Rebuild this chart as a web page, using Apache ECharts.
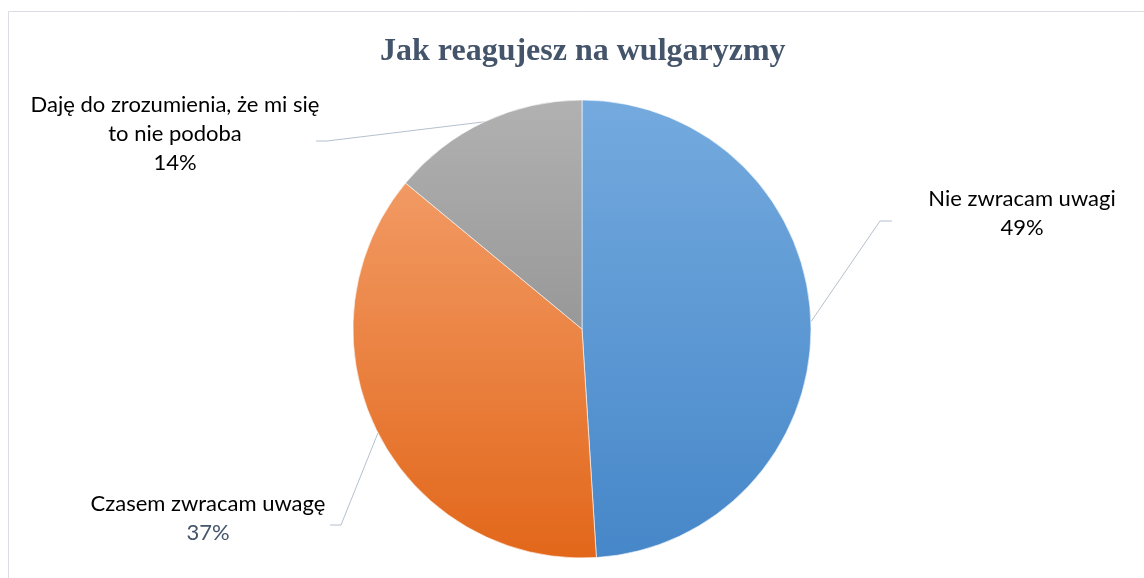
<!DOCTYPE html>
<html>
<head>
<meta charset="utf-8">
<script src="https://cdn.jsdelivr.net/npm/echarts@6/dist/echarts.min.js"></script>
<style>
  html, body { margin: 0; padding: 0; background: #fff; }
  #chart { width: 1144px; height: 578px; }
</style>
</head>
<body>
<div id="chart"></div>
<script>
// data
var categories = ['Nie zwracam uwagi', 'Czasem zwracam uwagę', 'Daję do zrozumienia, że mi się\nto nie podoba']
var shares = [49, 37, 14]

// slice gradients (top -> bottom, across the whole pie)
var sliceColors = [
  ['#74aade', '#4687c9'],
  ['#f5a574', '#e2671a'],
  ['#b1b1b1', '#7f7f7f']
]
// where each label sits, and the elbow of its leader line
var labelSpots = [
  { x: 1022, y: 213, elbow: [880, 221], end: [892, 221] },
  { x: 208, y: 518, elbow: [341, 525], end: [330, 525] },
  { x: 175, y: 134, elbow: [327, 141], end: [316, 141] }
]

var chart = echarts.init(document.getElementById('chart'))

var seriesData = categories.map(function(name, i) {
  return {
    name: name,
    value: shares[i],
    itemStyle: {
      color: new echarts.graphic.LinearGradient(0, 100, 0, 558, [
        { offset: 0, color: sliceColors[i][0] },
        { offset: 1, color: sliceColors[i][1] }
      ], true)
    },
    label: {
      rich: {
        pct: { color: i === 1 ? '#44546a' : '#000' }
      }
    }
  }
})

chart.setOption({
  animation: false,
  title: {
    text: 'Jak reagujesz na wulgaryzmy',
    left: 375,
    top: 31,
    textStyle: {
      fontFamily: 'Liberation Serif',
      fontWeight: 'bold',
      fontSize: 32,
      color: '#44546a'
    }
  },
  graphic: [{
    type: 'rect',
    shape: { x: 8.5, y: 11.5, width: 1200, height: 700 },
    style: { fill: 'none', stroke: '#dadde2', lineWidth: 1 },
    silent: true
  }],
  series: [{
    type: 'pie',
    center: [582, 329],
    radius: 229,
    startAngle: 90,
    clockwise: true,
    data: seriesData,
    itemStyle: {
      borderColor: 'rgba(255,255,255,0.6)',
      borderWidth: 1
    },
    label: {
      show: true,
      position: 'outside',
      formatter: function(p) {
        return '{name|' + p.name + '}\n{pct|' + p.value + '%}'
      },
      rich: {
        name: { fontFamily: 'Lato', fontSize: 22, lineHeight: 29, color: '#000', align: 'center' },
        pct: { fontFamily: 'Lato', fontSize: 22, lineHeight: 29, align: 'center' }
      }
    },
    labelLine: {
      show: true,
      lineStyle: { color: '#b4c0ce', width: 1 }
    },
    labelLayout: function(params) {
      var spot = labelSpots[params.dataIndex]
      var start = params.labelLinePoints[0]
      return {
        x: spot.x,
        y: spot.y,
        align: 'center',
        verticalAlign: 'middle',
        labelLinePoints: [start, spot.elbow, spot.end]
      }
    }
  }]
})
</script>
</body>
</html>
